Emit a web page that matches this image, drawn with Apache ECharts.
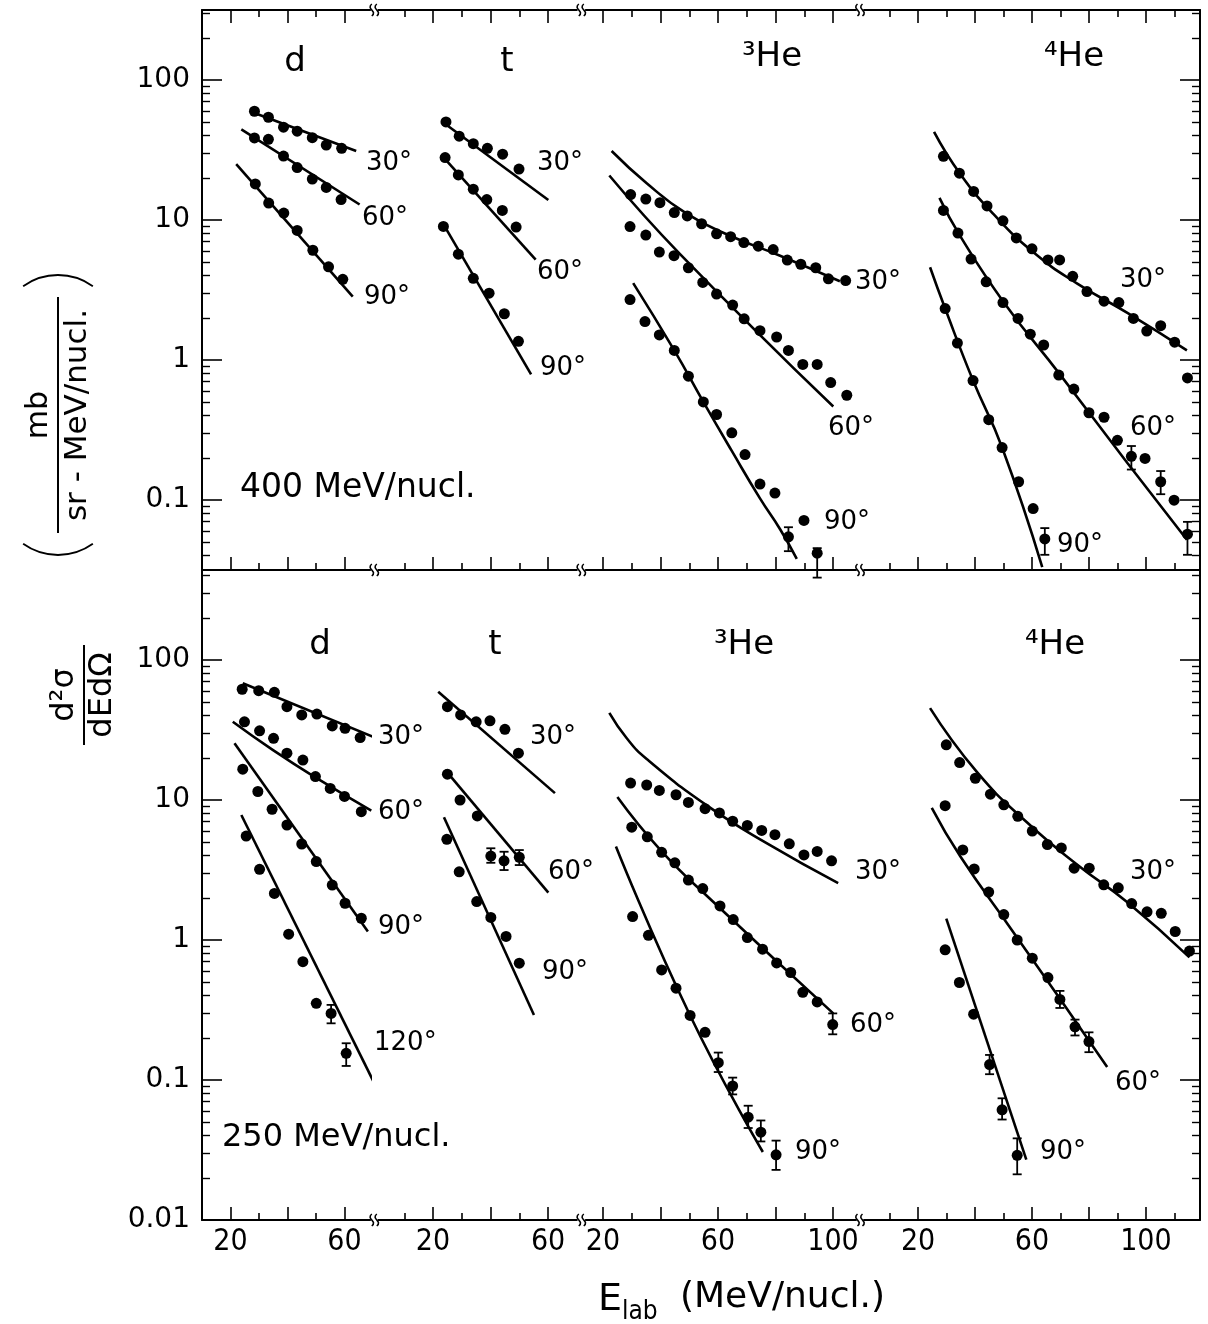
<!DOCTYPE html>
<html><head><meta charset="utf-8">
<script src="https://cdn.jsdelivr.net/npm/echarts@6/dist/echarts.min.js"></script>
<style>html,body{margin:0;padding:0;background:#fff}#c{width:1208px;height:1324px}</style>
</head><body><div id="c"></div>
<script>
// ---------------- DATA ----------------
// x ticks / labels per segment (d, t, 3He, 4He)
const X_MAJOR = [[20,40,60],[20,40,60],[20,40,60,80,100],[20,40,60,80,100]];
const X_MINOR = [[30,50],[10,30,50],[30,50,70,90],[10,30,50,70,90,110]];
const X_LABELS = [[20,60],[20,60],[20,60,100],[20,60,100]];
const Y_MAJOR = [0.01,0.1,1,10,100];
const Y_LABELS = ['0.01','0.1','1','10','100'];
const PARTICLES = ['d','t','³He','⁴He'];
const BEAMS = ['400 MeV/nucl.','250 MeV/nucl.'];

// 400 MeV/nucl. (upper panel)  [E_lab, d2sigma]
const hi_d30_pts = [[28.4,59.8],[33.3,54.2],[38.6,46.0],[43.4,43.1],[48.7,38.7],[53.6,34.3],[59.0,32.5]];
const hi_d30_fit = [[28.4,58.2],[64.1,31.1]];
const hi_d60_pts = [[28.4,38.6],[33.3,37.7],[38.6,28.6],[43.4,23.7],[48.7,19.6],[53.6,17.1],[58.8,14.0]];
const hi_d60_fit = [[23.8,44.4],[65.3,12.9]];
const hi_d90_pts = [[28.7,18.1],[33.4,13.2],[38.7,11.2],[43.4,8.43],[48.9,6.08],[54.4,4.63],[59.4,3.77]];
const hi_d90_fit = [[22.0,25.1],[62.9,2.84]];
const hi_t30_pts = [[24.5,50.2],[29.1,39.7],[34.0,35.1],[38.9,32.5],[44.2,29.5],[49.9,23.1]];
const hi_t30_fit = [[24.5,48.1],[60.1,13.9]];
const hi_t60_pts = [[24.2,27.9],[28.8,21.0],[34.0,16.6],[38.7,14.0],[44.1,11.7],[48.9,8.9]];
const hi_t60_fit = [[24.2,27.2],[55.7,5.22]];
const hi_t90_pts = [[23.6,9.0],[28.8,5.7],[34.0,3.83],[39.5,3.0],[44.8,2.14],[49.7,1.36]];
const hi_t90_fit = [[24.2,8.9],[54.1,0.79]];
const hi_he3_30_pts = [[29.6,15.2],[34.9,14.1],[39.8,13.3],[44.8,11.3],[49.3,10.7],[54.3,9.4],[59.5,7.96],[64.4,7.6],[69.0,6.9],[74.0,6.5],[79.2,6.15],[84.1,5.17],[88.8,4.83],[94.0,4.56],[98.4,3.80],[104.4,3.69]];
const hi_he3_30_fit = [[23.0,31.1],[35.2,18.3],[49.1,11.1],[64.2,7.72],[81.6,5.56],[102.4,3.65]];
const hi_he3_60_pts = [[29.4,8.98],[34.9,7.81],[39.6,5.90],[44.7,5.56],[49.7,4.56],[54.7,3.58],[59.5,2.96],[65.1,2.47],[69.1,1.97],[74.6,1.62],[80.4,1.46],[84.5,1.17],[89.5,0.93],[94.5,0.93],[99.2,0.69],[104.8,0.56]];
const hi_he3_60_fit = [[22.2,20.8],[46.8,5.71],[100.1,0.465]];
const hi_he3_90_pts = [[29.4,2.70],[34.6,1.88],[39.6,1.51],[44.8,1.17],[49.7,0.766],[54.9,0.502],[59.5,0.408],[64.8,0.302],[69.4,0.211],[74.6,0.130],[79.8,0.112],[84.5,0.0546],[89.9,0.0714],[94.5,0.0417]];
const hi_he3_90_err = [[84.5,0.0431,0.0639],[94.5,0.0279,0.0453]];
const hi_he3_90_fit = [[30.5,3.54],[44.8,1.17],[54.9,0.502],[64.8,0.224],[74.6,0.1026],[81.6,0.0618],[87.4,0.038]];
const hi_he4_30_pts = [[28.9,28.5],[34.5,21.6],[39.5,16.0],[44.2,12.6],[49.8,9.86],[54.5,7.44],[60.0,6.22],[65.6,5.19],[69.7,5.19],[74.3,3.96],[79.3,3.08],[85.3,2.63],[90.5,2.57],[95.6,1.98],[100.3,1.61],[105.2,1.76],[110.1,1.34],[114.6,0.745]];
const hi_he4_30_fit = [[25.6,42.6],[34.8,21.3],[46.5,11.0],[60.6,5.85],[75.9,3.51],[93.5,2.17],[114.4,1.17]];
const hi_he4_60_pts = [[28.9,11.7],[34.0,8.06],[38.6,5.26],[43.9,3.62],[49.8,2.57],[55.1,1.98],[59.4,1.53],[64.1,1.28],[69.4,0.78],[74.7,0.62],[80.0,0.42],[85.3,0.39],[90.0,0.267],[94.9,0.205],[99.7,0.198],[105.2,0.135],[109.9,0.0997],[114.6,0.057]];
const hi_he4_60_err = [[94.9,0.165,0.243],[105.2,0.110,0.161],[114.6,0.0406,0.0698]];
const hi_he4_60_fit = [[27.5,14.4],[34.8,7.67],[50.0,2.60],[70.0,0.78],[93.5,0.184],[114.4,0.052]];
const hi_he4_90_pts = [[29.5,2.33],[33.8,1.32],[39.3,0.713],[44.8,0.375],[49.5,0.237],[55.3,0.135],[60.4,0.0869],[64.5,0.0527]];
const hi_he4_90_err = [[64.5,0.0406,0.063]];
const hi_he4_90_fit = [[24.2,4.6],[29.5,2.33],[39.3,0.713],[49.5,0.237],[63.6,0.0332]];

// 250 MeV/nucl. (lower panel)
const lo_d30_pts = [[24.1,61.8],[29.9,60.4],[35.4,58.8],[39.8,46.4],[45.0,40.5],[50.3,41.1],[55.7,33.8],[60.2,32.5],[65.5,27.9]];
const lo_d30_fit = [[24.3,68.2],[69.9,28.3]];
const lo_d60_pts = [[24.9,36.2],[30.2,31.2],[35.1,27.6],[39.8,21.6],[45.4,19.3],[49.8,14.7],[55.0,12.1],[60.0,10.6],[65.9,8.25]];
const lo_d60_fit = [[20.8,36.2],[34.8,22.8],[49.8,14.5],[69.4,8.4]];
const lo_d90_pts = [[24.3,16.6],[29.6,11.5],[34.6,8.59],[39.8,6.63],[45.0,4.85],[50.1,3.63],[55.7,2.47],[60.2,1.83],[65.9,1.43]];
const lo_d90_fit = [[21.4,25.4],[68.2,1.15]];
const lo_d120_pts = [[25.5,5.53],[30.2,3.20],[35.4,2.15],[40.4,1.10],[45.4,0.70],[50.1,0.353],[55.3,0.299],[60.6,0.155]];
const lo_d120_err = [[55.3,0.254,0.344],[60.6,0.126,0.183]];
const lo_d120_fit = [[23.8,7.81],[70.2,0.0973]];
const lo_t30_pts = [[25.0,46.4],[29.6,40.5],[35.0,36.2],[39.8,36.8],[45.0,32.0],[49.7,21.6]];
const lo_t30_fit = [[21.8,59.4],[62.4,11.2]];
const lo_t60_pts = [[25.0,15.3],[29.4,10.0],[35.4,7.69],[40.1,3.98],[44.7,3.68],[50.0,3.90]];
const lo_t60_err = [[40.1,3.56,4.52],[44.7,3.16,4.27],[50.0,3.43,4.39]];
const lo_t60_fit = [[24.2,16.4],[60.1,2.18]];
const lo_t90_pts = [[24.8,5.24],[29.1,3.07],[35.2,1.88],[40.1,1.45],[45.4,1.06],[50.0,0.683]];
const lo_t90_fit = [[23.8,7.52],[55.1,0.291]];
const lo_he3_30_pts = [[29.6,13.2],[35.2,12.8],[39.6,11.7],[45.4,10.9],[49.7,9.61],[55.5,8.67],[60.5,8.09],[65.1,7.05],[70.2,6.58],[75.2,6.06],[79.8,5.65],[84.8,4.86],[89.9,4.05],[94.5,4.29],[99.5,3.68]];
const lo_he3_30_fit = [[22.2,41.9],[28.2,27.7],[35.2,19.6],[56.1,9.16],[76.9,4.92],[101.8,2.55]];
const lo_he3_60_pts = [[30.0,6.40],[35.4,5.46],[40.4,4.23],[45.0,3.56],[49.7,2.68],[54.7,2.33],[60.7,1.75],[65.3,1.40],[70.2,1.04],[75.5,0.86],[80.4,0.686],[85.3,0.586],[89.5,0.423],[94.5,0.361],[99.9,0.249]];
const lo_he3_60_err = [[99.9,0.212,0.299]];
const lo_he3_60_fit = [[25.0,10.5],[40.4,4.3],[58.4,1.87],[100.1,0.299]];
const lo_he3_90_pts = [[30.3,1.47],[35.8,1.08],[40.4,0.611],[45.4,0.453],[50.3,0.289],[55.5,0.219],[60.1,0.133],[65.1,0.0906],[70.5,0.0543],[74.9,0.0424],[80.2,0.0292]];
const lo_he3_90_err = [[60.1,0.114,0.157],[65.1,0.0789,0.104],[70.5,0.0454,0.0655],[74.9,0.0364,0.0514],[80.2,0.0228,0.0369]];
const lo_he3_90_fit = [[24.5,4.66],[50.3,0.289],[75.6,0.0306]];
const lo_he4_30_pts = [[29.9,24.8],[34.6,18.5],[40.1,14.3],[45.4,11.0],[50.1,9.23],[55.0,7.65],[60.1,6.00],[65.4,4.81],[70.3,4.55],[74.8,3.26],[80.1,3.26],[85.2,2.48],[90.3,2.36],[95.0,1.82],[100.4,1.59],[105.4,1.55],[110.3,1.15],[115.3,0.833]];
const lo_he4_30_fit = [[24.2,45.3],[40.7,15.8],[58.3,6.90],[75.9,3.45],[93.6,1.85],[115.3,0.752]];
const lo_he4_60_pts = [[29.5,9.10],[35.7,4.40],[39.7,3.22],[44.8,2.20],[50.1,1.52],[54.8,1.00],[60.1,0.741],[65.6,0.539],[69.8,0.376],[75.1,0.240],[80.0,0.188]];
const lo_he4_60_err = [[69.8,0.327,0.433],[75.1,0.208,0.27],[80.0,0.158,0.219]];
const lo_he4_60_fit = [[24.8,8.79],[34.8,3.96],[52.4,1.22],[70.0,0.376],[86.4,0.124]];
const lo_he4_90_pts = [[29.5,0.851],[34.5,0.497],[39.5,0.295],[45.1,0.129],[49.5,0.0612],[54.8,0.029]];
const lo_he4_90_err = [[45.1,0.110,0.151],[49.5,0.0522,0.074],[54.8,0.0212,0.0383]];
const lo_he4_90_fit = [[29.9,1.42],[58.0,0.027]];

// [panel, segment, points, fit, errors]
const SETS = [
  [0,0,hi_d30_pts,hi_d30_fit,null],[0,0,hi_d60_pts,hi_d60_fit,null],[0,0,hi_d90_pts,hi_d90_fit,null],
  [0,1,hi_t30_pts,hi_t30_fit,null],[0,1,hi_t60_pts,hi_t60_fit,null],[0,1,hi_t90_pts,hi_t90_fit,null],
  [0,2,hi_he3_30_pts,hi_he3_30_fit,null],[0,2,hi_he3_60_pts,hi_he3_60_fit,null],[0,2,hi_he3_90_pts,hi_he3_90_fit,hi_he3_90_err],
  [0,3,hi_he4_30_pts,hi_he4_30_fit,null],[0,3,hi_he4_60_pts,hi_he4_60_fit,hi_he4_60_err],[0,3,hi_he4_90_pts,hi_he4_90_fit,hi_he4_90_err],
  [1,0,lo_d30_pts,lo_d30_fit,null],[1,0,lo_d60_pts,lo_d60_fit,null],[1,0,lo_d90_pts,lo_d90_fit,null],[1,0,lo_d120_pts,lo_d120_fit,lo_d120_err],
  [1,1,lo_t30_pts,lo_t30_fit,null],[1,1,lo_t60_pts,lo_t60_fit,lo_t60_err],[1,1,lo_t90_pts,lo_t90_fit,null],
  [1,2,lo_he3_30_pts,lo_he3_30_fit,null],[1,2,lo_he3_60_pts,lo_he3_60_fit,lo_he3_60_err],[1,2,lo_he3_90_pts,lo_he3_90_fit,lo_he3_90_err],
  [1,3,lo_he4_30_pts,lo_he4_30_fit,null],[1,3,lo_he4_60_pts,lo_he4_60_fit,lo_he4_60_err],[1,3,lo_he4_90_pts,lo_he4_90_fit,lo_he4_90_err]
];

// ---------------- LAYOUT ----------------
const FONT = '"DejaVu Sans", "Liberation Sans", sans-serif';
const COND = '"DejaVu Sans Condensed", "Liberation Sans Narrow", "DejaVu Sans", sans-serif';
const SEG_MIN = [10, 1, 14, 1];
const SEG_MAX = [69, 70, 108, 119];
const SEG_LEFT = [202, 378.4, 585.75, 864];
const SEG_W = [168.15, 198.4, 270.25, 336];
const PANEL_TOP = [10, 570];
const PANEL_H = [560, 650];
const Y_RANGE = [[Math.pow(10,-1.5), Math.pow(10,2.5)], [0.01, Math.pow(10, 2 + 90/140)]];

const Y_MINOR = [];
[0.01,0.1,1,10,100].forEach(d => { for (let k=2;k<=9;k++) Y_MINOR.push(+(d*k).toPrecision(3)); });

const BLACK = '#000';
const grids=[], xAxes=[], yAxes=[], series=[], mainX=[], mainY=[];

for (let p=0;p<2;p++) for (let s=0;s<4;s++) {
  const g = grids.length;
  grids.push({left:SEG_LEFT[s], width:SEG_W[s], top:PANEL_TOP[p], height:PANEL_H[p], containLabel:false, outerBoundsMode:'none'});
  const xb = {type:'value', gridIndex:g, min:SEG_MIN[s], max:SEG_MAX[s], splitLine:{show:false}};
  const tickStyle = {color:BLACK, width:1.6};
  const mk = (pos, major, line, labels) => Object.assign({}, xb, {
    position:pos,
    axisLine:{show:line, onZero:false, lineStyle:{color:BLACK, width:2}},
    axisTick:{show:true, inside:true, length: major?13:7, lineStyle:tickStyle, customValues: major?X_MAJOR[s]:X_MINOR[s]},
    axisLabel: labels ? {show:true, customValues:X_LABELS[s], margin:7, color:BLACK, fontFamily:COND, fontSize:30, formatter:v=>String(Math.round(v))} : {show:false}
  });
  mainX[g] = xAxes.length;
  xAxes.push(mk('bottom', true, true, p===1));
  xAxes.push(mk('bottom', false, false, false));
  if (p===0) { xAxes.push(mk('top', true, true, false)); xAxes.push(mk('top', false, false, false)); }

  const yr = Y_RANGE[p];
  const inR = arr => arr.filter(v => v >= yr[0]*0.999 && v <= yr[1]*1.001);
  const yb = {type:'log', logBase:10, gridIndex:g, min:yr[0], max:yr[1], splitLine:{show:false}};
  mainY[g] = yAxes.length;
  if (s===0 || s===3) {
    const pos = s===0 ? 'left' : 'right';
    yAxes.push(Object.assign({}, yb, {position:pos,
      axisLine:{show:true, onZero:false, lineStyle:{color:BLACK, width:2}},
      axisTick:{show:true, inside:true, length:20, lineStyle:{color:BLACK,width:1.6}, customValues:inR(Y_MAJOR)},
      axisLabel: s===0 ? {show:true, customValues:inR(Y_MAJOR), margin:12, color:BLACK, fontFamily:FONT, fontSize:28,
        formatter: v => Y_LABELS[Math.round(Math.log10(v))+2]} : {show:false}}));
    yAxes.push(Object.assign({}, yb, {position:pos, axisLine:{show:false},
      axisTick:{show:true, inside:true, length:8, lineStyle:{color:BLACK,width:1.4}, customValues:inR(Y_MINOR)},
      axisLabel:{show:false}}));
  } else {
    yAxes.push(Object.assign({}, yb, {show:false}));
  }
}

function errItem(params, api) {
  const x = api.value(0), lo = api.value(1), hi = api.value(2);
  const a = api.coord([x, lo]), b = api.coord([x, hi]);
  const w = 4.5, st = {stroke:BLACK, lineWidth:1.8};
  return {type:'group', children:[
    {type:'line', shape:{x1:a[0],y1:a[1],x2:b[0],y2:b[1]}, style:st},
    {type:'line', shape:{x1:a[0]-w,y1:a[1],x2:a[0]+w,y2:a[1]}, style:st},
    {type:'line', shape:{x1:b[0]-w,y1:b[1],x2:b[0]+w,y2:b[1]}, style:st}
  ]};
}

SETS.forEach(([p, s, pts, fit, err]) => {
  const g = p*4+s;
  const ax = {xAxisIndex:mainX[g], yAxisIndex:mainY[g]};
  if (fit) series.push(Object.assign({type:'line', data:fit, showSymbol:false, symbol:'none',
    smooth: fit.length>2 ? 0.5 : false, lineStyle:{color:BLACK, width:2.6}, z:2, silent:true}, ax));
  if (pts) series.push(Object.assign({type:'scatter', data:pts, symbol:'circle', symbolSize:11,
    itemStyle:{color:BLACK, opacity:1}, z:3, silent:true}, ax));
  if (err) series.push(Object.assign({type:'custom', data:err, renderItem:errItem, encode:{x:0, y:[1,2]},
    clip:false, z:3, silent:true}, ax));
});

// ---------------- TEXT & DECORATION ----------------
const graphic = [];
function txt(x, y, text, size, opts) {
  opts = opts || {};
  graphic.push({type:'text', x:x, y:y, z:10, silent:true, style:{text:text, fill:BLACK, fontSize:size,
    fontFamily: opts.family || FONT, align: opts.align || 'left', verticalAlign:'middle',
    textAlign: opts.align || 'left', textVerticalAlign:'middle'}});
}
// breaks on horizontal frame lines
const BREAK_X = [374.3, 581.3, 860];
[10, 570, 1220].forEach(cy => BREAK_X.forEach(cx => {
  [-2.5, 2.5].forEach(dx => graphic.push({type:'bezierCurve', silent:true, z:10,
    shape:{x1:cx+dx, y1:cy-6, x2:cx+dx, y2:cy+6, cpx1:cx+dx-6, cpy1:cy-1, cpx2:cx+dx+6, cpy2:cy+1},
    style:{stroke:BLACK, lineWidth:1.6, fill:null}}));
}));

// angle labels
const ANG = [
  [366,163,'30°'],[362,218,'60°'],[364,297,'90°'],
  [537,163,'30°'],[537,272,'60°'],[540,368,'90°'],
  [855,282,'30°'],[828,428,'60°'],[824,522,'90°'],
  [1120,280,'30°'],[1130,428,'60°'],[1057,545,'90°'],
  [378,737,'30°'],[378,812,'60°'],[378,927,'90°'],[374,1043,'120°'],
  [530,737,'30°'],[548,872,'60°'],[542,972,'90°'],
  [855,872,'30°'],[850,1025,'60°'],[795,1152,'90°'],
  [1130,872,'30°'],[1115,1083,'60°'],[1040,1152,'90°']
];
ANG.forEach(a => txt(a[0], a[1], a[2], 26));

// particle labels
const PART_POS = [[[295,62],[507,62],[772,57],[1074,57]], [[320,645],[495,645],[744,645],[1055,645]]];
PART_POS.forEach(row => row.forEach((pos, i) => txt(pos[0], pos[1], PARTICLES[i], 34, {align:'center'})));
// beam energies
txt(240, 488, BEAMS[0], 33);
txt(222, 1138, BEAMS[1], 32);

// x title
txt(598, 1300, 'E', 38);
txt(622, 1312, 'lab', 26, {family:COND});
txt(680, 1298, '(MeV/nucl.)', 36);

// y title: (mb / sr-MeV/nucl.)  and  d2sigma/dEdOmega
const ts = (x, y, t, size, fam) => ({type:'text', x:x, y:y, silent:true, style:{text:t, fill:BLACK, fontSize:size, fontFamily:fam||FONT, align:'center', verticalAlign:'middle', textAlign:'center', textVerticalAlign:'middle'}});
const paren = (cx, r, a0, a1) => ({type:'arc', shape:{cx:cx, cy:0, r:r, startAngle:a0, endAngle:a1}, style:{stroke:BLACK, lineWidth:1.8, fill:null}});
const PA = 0.62;
graphic.push({type:'group', x:58, y:415, rotation:Math.PI/2, silent:true, children:[
  ts(0, -19, 'mb', 30),
  {type:'line', shape:{x1:-118, y1:0, x2:118, y2:0}, style:{stroke:BLACK, lineWidth:2}},
  ts(0, 20, 'sr - MeV/nucl.', 31),
  paren(-140 + 60, 60, Math.PI - PA, Math.PI + PA),
  paren(140 - 60, 60, -PA, PA)
]});
graphic.push({type:'group', x:84, y:695, rotation:Math.PI/2, silent:true, children:[
  ts(0, -19, 'd²σ', 32),
  {type:'line', shape:{x1:-50, y1:0, x2:50, y2:0}, style:{stroke:BLACK, lineWidth:2}},
  ts(0, 19, 'dEdΩ', 32)
]});

const chart = echarts.init(document.getElementById('c'), null, {renderer:'canvas'});
chart.setOption({
  animation:false,
  backgroundColor:'#fff',
  grid:grids, xAxis:xAxes, yAxis:yAxes, series:series, graphic:graphic
});
</script></body></html>
